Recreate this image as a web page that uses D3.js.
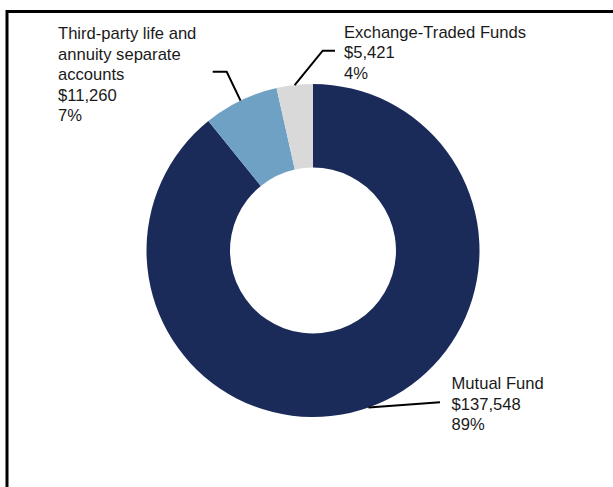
<!DOCTYPE html>
<html>
<head>
<meta charset="utf-8">
<script src="https://cdn.jsdelivr.net/npm/d3@7"></script>
<style>
  html, body { margin: 0; padding: 0; background: #fff; }
  svg { display: block; }
  text { font-family: "Liberation Sans", Arial, sans-serif; font-size: 16.6px; fill: #1a1a1a; }
</style>
</head>
<body>
<svg id="chart" width="613" height="487"></svg>
<script>
// Assets by product type ($ millions)
const categories = ["Mutual Fund", "Third-party life and annuity separate accounts", "Exchange-Traded Funds"];
const values = [137548, 11260, 5421];
const labelLines = [
  ["Mutual Fund"],
  ["Third-party life and", "annuity separate", "accounts"],
  ["Exchange-Traded Funds"]
];
const colors = ["#1b2b59", "#6fa1c5", "#d9d9d9"];

const width = 613, height = 487;
const cx = 313, cy = 250.5;
const outerR = 166.5, innerR = 83;

const svg = d3.select("#chart");

// Frame (open to the right and bottom)
svg.append("path")
  .attr("d", `M7,${height + 5} V11.5 H${width + 5}`)
  .attr("fill", "none")
  .attr("stroke", "#000")
  .attr("stroke-width", 3);

const total = d3.sum(values);
const data = categories.map((c, i) => ({
  name: c, value: values[i], lines: labelLines[i], color: colors[i],
  pct: Math.round(values[i] / total * 100) + "%"
}));

const pie = d3.pie().sort(null).value(d => d.value);
const arcs = pie(data);
const arc = d3.arc().innerRadius(innerR).outerRadius(outerR);

const g = svg.append("g").attr("transform", `translate(${cx},${cy})`);
g.selectAll("path.slice")
  .data(arcs)
  .join("path")
  .attr("class", "slice")
  .attr("d", arc)
  .attr("fill", d => d.data.color);

// Point on the outer edge at a slice's mid angle
function edgePoint(a) {
  const m = (a.startAngle + a.endAngle) / 2;
  return [cx + outerR * Math.sin(m), cy - outerR * Math.cos(m)];
}

// Label placement: leader bend points and text anchor per slice
const labelLayout = [
  { bend: [[440, 402.3]], textX: 451.5, firstBaseline: 389.3 },
  { bend: [[226.7, 71.7], [212.7, 71.7]], textX: 58, firstBaseline: 39.3 },
  { bend: [[322.7, 50.7], [335, 50.7]], textX: 344, firstBaseline: 37.8 }
];
const lineStep = 20.4;

arcs.forEach((a, i) => {
  const lay = labelLayout[i];
  const pts = [edgePoint(a), ...lay.bend];
  svg.append("path")
    .attr("d", d3.line()(pts))
    .attr("fill", "none")
    .attr("stroke", "#000")
    .attr("stroke-width", 2);

  const lines = [...a.data.lines, "$" + d3.format(",")(a.data.value), a.data.pct];
  const t = svg.append("text").attr("x", lay.textX).attr("y", lay.firstBaseline);
  lines.forEach((s, k) => {
    t.append("tspan")
      .attr("x", lay.textX)
      .attr("y", lay.firstBaseline + k * lineStep)
      .text(s);
  });
});
</script>
</body>
</html>
